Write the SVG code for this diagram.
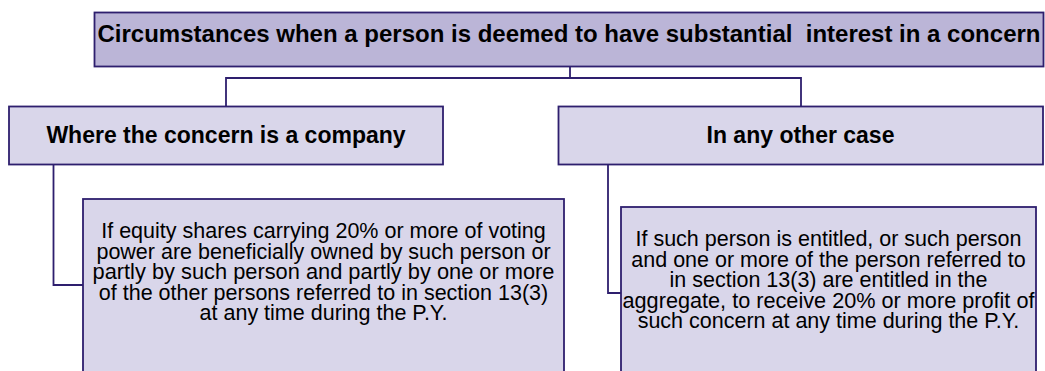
<svg xmlns="http://www.w3.org/2000/svg" width="1045" height="371" viewBox="0 0 1045 371">
<style>
.box{stroke:#2e1f6e;stroke-width:1.8}
.dark{fill:#bbb5d7}
.light{fill:#d9d6ea}
.conn{fill:none;stroke:#2e1f6e;stroke-width:1.8}
.hd{font-family:"Liberation Sans",Arial,sans-serif;font-weight:bold;fill:#000;text-anchor:middle}
.bd{font-family:"Liberation Sans",Arial,sans-serif;font-size:21.5px;fill:#000;text-anchor:middle}
</style>
<g id="connectors">
<polyline class="conn" points="570,66 570,78 226,78 226,106"/>
<polyline class="conn" points="570,78 801,78 801,106"/>
<polyline class="conn" points="53.5,164 53.5,285 83,285"/>
<polyline class="conn" points="608,164 608,293 621,293"/>
</g>
<g id="root">
<rect class="box dark" x="94.5" y="12.5" width="949" height="54"/>
<text class="hd" x="569" y="42" font-size="24" xml:space="preserve">Circumstances when a person is deemed to have substantial  interest in a concern</text>
</g>
<g id="company">
<rect class="box light" x="9" y="106.5" width="434" height="58"/>
<text class="hd" x="226" y="143" font-size="23">Where the concern is a company</text>
</g>
<g id="other">
<rect class="box light" x="558.5" y="106.5" width="484.5" height="58"/>
<text class="hd" x="800.5" y="143" font-size="23">In any other case</text>
</g>
<g id="company-detail">
<rect class="box light" x="83" y="199" width="481" height="190"/>
<text class="bd" x="323.5" y="238">If equity shares carrying 20% or more of voting</text>
<text class="bd" x="323.5" y="258.5">power are beneficially owned by such person or</text>
<text class="bd" x="323.5" y="279" textLength="462" lengthAdjust="spacingAndGlyphs">partly by such person and partly by one or more</text>
<text class="bd" x="323.5" y="299.5">of the other persons referred to in section 13(3)</text>
<text class="bd" x="323.5" y="320">at any time during the P.Y.</text>
</g>
<g id="other-detail">
<rect class="box light" x="621" y="207" width="415" height="190"/>
<text class="bd" x="828.5" y="246">If such person is entitled, or such person</text>
<text class="bd" x="828.5" y="266.5">and one or more of the person referred to</text>
<text class="bd" x="828.5" y="287">in section 13(3) are entitled in the</text>
<text class="bd" x="828.5" y="307.5" textLength="412" lengthAdjust="spacingAndGlyphs">aggregate, to receive 20% or more profit of</text>
<text class="bd" x="828.5" y="328">such concern at any time during the P.Y.</text>
</g>
</svg>
